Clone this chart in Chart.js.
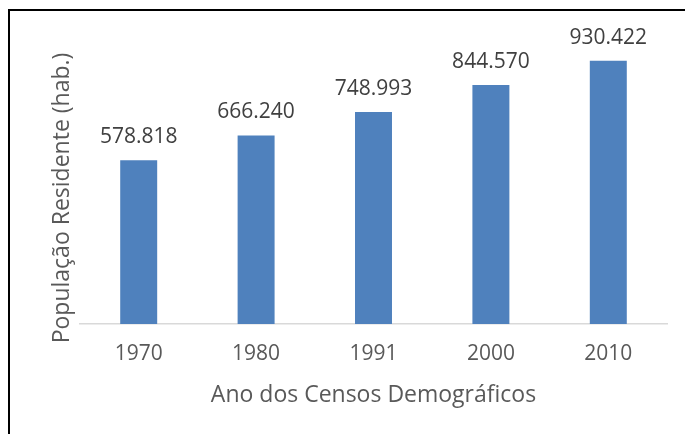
<!DOCTYPE html>
<html>
<head>
<meta charset="utf-8">
<script src="https://cdn.jsdelivr.net/npm/chart.js@4.4.0/dist/chart.umd.min.js"></script>
<style>
  html, body { margin: 0; padding: 0; background: #fff; }
  #wrap { position: relative; width: 685px; height: 434px; overflow: hidden; }
  #frame { position: absolute; left: 8px; top: 9px; width: 800px; height: 600px;
           border-top: 2px solid #000; border-left: 2px solid #000; box-sizing: border-box; pointer-events: none; }
  canvas { position: absolute; left: 0; top: 0; }
</style>
</head>
<body>
<div id="wrap">
  <canvas id="c" width="685" height="434"></canvas>
  <div id="frame"></div>
</div>
<script>
const categories = ['1970', '1980', '1991', '2000', '2010'];
const populacao = [578818, 666240, 748993, 844570, 930422];
const valueLabels = ['578.818', '666.240', '748.993', '844.570', '930.422'];
const yTitle = 'População Residente (hab.)';
const xTitle = 'Ano dos Censos Demográficos';

const FONT = "'Open Sans', 'Noto Sans', sans-serif";

const labelsPlugin = {
  id: 'valueLabels',
  afterDatasetsDraw(chart) {
    const ctx = chart.ctx;
    const meta = chart.getDatasetMeta(0);
    ctx.save();
    ctx.font = "21px " + FONT;
    ctx.fillStyle = '#404040';
    ctx.textAlign = 'center';
    ctx.textBaseline = 'alphabetic';
    meta.data.forEach((bar, i) => {
      ctx.fillText(valueLabels[i], bar.x, bar.y - 17);
    });
    ctx.restore();
  }
};

const titlesPlugin = {
  id: 'axisTitles',
  afterDraw(chart) {
    const ctx = chart.ctx;
    const a = chart.chartArea;
    ctx.save();
    ctx.font = "23px " + FONT;
    ctx.fillStyle = '#595959';
    ctx.textAlign = 'center';
    ctx.textBaseline = 'middle';
    ctx.fillText(xTitle, (a.left + a.right) / 2, 395);
    ctx.translate(62, 198);
    ctx.rotate(-Math.PI / 2);
    ctx.fillText(yTitle, 0, 0);
    ctx.restore();
  }
};

new Chart(document.getElementById('c'), {
  type: 'bar',
  data: {
    labels: categories,
    datasets: [{
      data: populacao,
      backgroundColor: '#4f81bd',
      borderWidth: 0,
      categoryPercentage: 1,
      barPercentage: 0.315
    }]
  },
  options: {
    responsive: false,
    animation: false,
    devicePixelRatio: 1,
    layout: { padding: { top: 41, right: 18, left: 0, bottom: 0 } },
    plugins: { legend: { display: false }, tooltip: { enabled: false } },
    scales: {
      y: {
        min: 0, max: 1000000,
        ticks: { display: false },
        grid: { display: false, drawTicks: false },
        border: { display: false },
        afterFit(s) { s.width = 80; }
      },
      x: {
        grid: { display: false, drawTicks: false },
        border: { display: true, color: '#d9d9d9', width: 1.5 },
        ticks: { color: '#595959', font: { family: FONT, size: 21 }, padding: 17 },
        afterFit(s) { s.height = 110; }
      }
    }
  },
  plugins: [labelsPlugin, titlesPlugin]
});
</script>
</body>
</html>
